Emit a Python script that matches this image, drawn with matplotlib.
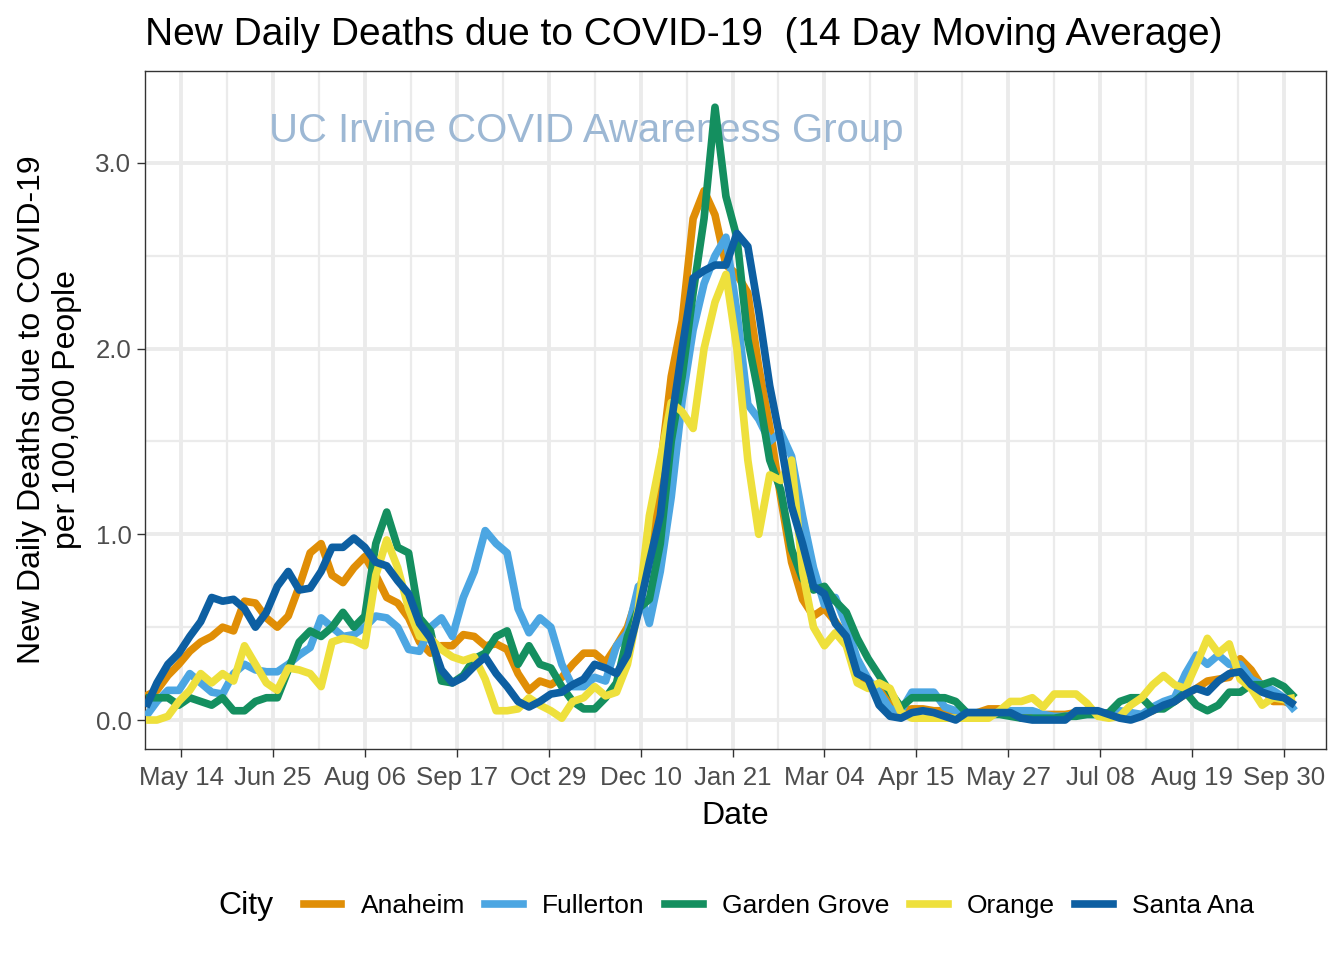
import matplotlib
matplotlib.use("Agg")
import matplotlib.pyplot as plt
import matplotlib.dates as mdates
from matplotlib.lines import Line2D
import pandas as pd
import numpy as np

plt.rcParams['font.family'] = ['Liberation Sans', 'DejaVu Sans']

# ---- data (14-day moving average, deaths per 100k), sampled every 5 days ----
dates = pd.date_range('2020-04-28', periods=106, freq='5D')

anaheim = [0.13,0.16,0.24,0.30,0.37,0.42,0.45,0.50,0.48,0.64,
           0.63,0.55,0.50,0.56,0.72,0.90,0.95,0.78,0.74,0.82,
           0.88,0.78,0.66,0.63,0.55,0.42,0.36,0.40,0.40,0.46,
           0.45,0.40,0.41,0.38,0.25,0.16,0.21,0.19,0.23,0.30,
           0.36,0.36,0.31,0.40,0.50,0.68,0.90,1.35,1.85,2.15,
           2.70,2.85,2.72,2.45,2.40,2.30,1.90,1.58,1.20,0.85,
           0.65,0.56,0.60,0.53,0.44,0.25,0.20,0.18,0.10,0.05,
           0.06,0.06,0.05,0.05,0.04,0.03,0.04,0.06,0.06,0.03,
           0.02,0.02,0.03,0.03,0.03,0.04,0.05,0.04,0.03,0.02,
           0.02,0.03,0.05,0.08,0.10,0.14,0.17,0.21,0.22,0.23,
           0.33,0.27,0.18,0.10,0.10,0.08]

fullerton = [0.02,0.10,0.16,0.16,0.25,0.20,0.15,0.14,0.25,0.30,
             0.27,0.26,0.26,0.30,0.35,0.39,0.55,0.50,0.45,0.46,
             0.50,0.56,0.55,0.50,0.38,0.37,0.50,0.55,0.45,0.66,
             0.80,1.02,0.95,0.90,0.60,0.47,0.55,0.50,0.30,0.18,
             0.18,0.23,0.21,0.40,0.47,0.72,0.52,0.80,1.20,1.72,
             2.10,2.35,2.50,2.60,2.20,1.70,1.62,1.50,1.55,1.42,
             1.10,0.82,0.62,0.66,0.51,0.33,0.22,0.15,0.06,0.05,
             0.15,0.15,0.15,0.07,0.05,0.04,0.04,0.03,0.04,0.05,
             0.05,0.05,0.03,0.02,0.02,0.03,0.03,0.03,0.03,0.05,
             0.04,0.03,0.07,0.10,0.12,0.25,0.35,0.30,0.35,0.30,
             0.30,0.22,0.19,0.16,0.12,0.05]

garden_grove = [0.12,0.12,0.12,0.08,0.12,0.10,0.08,0.12,0.05,0.05,
                0.10,0.12,0.12,0.27,0.42,0.48,0.45,0.50,0.58,0.50,
                0.56,0.95,1.12,0.93,0.90,0.55,0.48,0.21,0.20,0.24,
                0.33,0.36,0.45,0.48,0.30,0.40,0.30,0.28,0.18,0.10,
                0.06,0.06,0.12,0.20,0.45,0.60,0.65,0.95,1.50,1.85,
                2.30,2.70,3.30,2.82,2.60,2.05,1.75,1.40,1.24,0.92,
                0.76,0.70,0.72,0.64,0.58,0.44,0.33,0.24,0.15,0.07,
                0.12,0.12,0.12,0.12,0.10,0.04,0.03,0.03,0.03,0.02,
                0.01,0.01,0.01,0.01,0.02,0.02,0.03,0.03,0.04,0.10,
                0.12,0.12,0.06,0.06,0.10,0.15,0.08,0.05,0.08,0.15,
                0.15,0.19,0.19,0.21,0.18,0.12]

orange = [0.00,0.00,0.02,0.10,0.16,0.25,0.20,0.25,0.21,0.40,
          0.30,0.20,0.16,0.28,0.27,0.25,0.18,0.42,0.44,0.43,
          0.40,0.78,0.97,0.82,0.60,0.45,0.44,0.38,0.34,0.32,
          0.34,0.22,0.05,0.05,0.06,0.12,0.08,0.05,0.01,0.10,
          0.12,0.18,0.13,0.15,0.30,0.60,1.10,1.40,1.71,1.66,
          1.57,2.00,2.25,2.40,2.00,1.40,1.00,1.32,1.29,1.40,
          0.80,0.50,0.40,0.47,0.40,0.20,0.17,0.20,0.17,0.04,
          0.01,0.01,0.01,0.01,0.01,0.01,0.01,0.01,0.05,0.10,
          0.10,0.12,0.07,0.14,0.14,0.14,0.09,0.02,0.01,0.02,
          0.08,0.12,0.19,0.24,0.19,0.17,0.30,0.44,0.36,0.41,
          0.22,0.17,0.08,0.12,0.11,0.12]

santa_ana = [0.07,0.20,0.30,0.36,0.45,0.53,0.66,0.64,0.65,0.60,
             0.50,0.58,0.72,0.80,0.70,0.71,0.80,0.93,0.93,0.98,
             0.93,0.85,0.83,0.75,0.68,0.52,0.44,0.27,0.20,0.23,
             0.29,0.34,0.25,0.18,0.10,0.07,0.10,0.14,0.15,0.19,
             0.22,0.30,0.28,0.25,0.35,0.58,0.85,1.10,1.60,2.00,
             2.38,2.42,2.45,2.45,2.62,2.55,2.20,1.80,1.50,1.15,
             0.95,0.72,0.68,0.52,0.45,0.25,0.22,0.08,0.02,0.01,
             0.04,0.05,0.04,0.02,0.00,0.04,0.04,0.04,0.04,0.04,
             0.01,0.00,0.00,0.00,0.00,0.05,0.05,0.05,0.03,0.01,
             0.00,0.02,0.05,0.08,0.10,0.14,0.17,0.15,0.21,0.25,
             0.26,0.19,0.15,0.13,0.12,0.08]

cities = ['Anaheim', 'Fullerton', 'Garden Grove', 'Orange', 'Santa Ana']
series = [anaheim, fullerton, garden_grove, orange, santa_ana]
colors = ['#E08E06', '#4CA6E2', '#148F5F', '#EEE03C', '#0D5FA2']

tick_dates = pd.date_range('2020-05-14', periods=13, freq='42D')
tick_labels = ['May 14', 'Jun 25', 'Aug 06', 'Sep 17', 'Oct 29', 'Dec 10',
               'Jan 21', 'Mar 04', 'Apr 15', 'May 27', 'Jul 08', 'Aug 19', 'Sep 30']
minor_dates = tick_dates[:-1] + pd.Timedelta(days=21)

# ---- figure ----
fig = plt.figure(figsize=(13.44, 9.6), dpi=100)
ax = fig.add_axes([145/1344, 1-749/960, (1326-145)/1344, (749-71)/960])

for s, c in zip(series, colors):
    ax.plot(dates, s, color=c, lw=5.5, solid_joinstyle='round', solid_capstyle='butt', zorder=3)

x0 = pd.Timestamp('2020-04-28') - pd.Timedelta(days=0.46)
x1 = pd.Timestamp('2020-04-28') + pd.Timedelta(days=539.2)
ax.set_xlim(x0, x1)
ax.set_ylim(-0.156, 3.495)

ax.set_xticks(tick_dates)
ax.set_xticklabels(tick_labels)
ax.set_xticks(minor_dates, minor=True)
ax.set_yticks([0, 1, 2, 3])
ax.set_yticklabels(['0.0', '1.0', '2.0', '3.0'])
ax.set_yticks([0.5, 1.5, 2.5], minor=True)

ax.grid(which='major', color='#EBEBEB', lw=2.8, zorder=0)
ax.grid(which='minor', color='#EBEBEB', lw=1.6, zorder=0)
ax.set_axisbelow(True)

ax.tick_params(which='major', length=5.8, width=1.0, color='#333333',
               labelsize=18.6, labelcolor='#4D4D4D', pad=4)
ax.tick_params(axis='x', which='major', pad=6.5)
ax.tick_params(which='minor', length=0)
for sp in ax.spines.values():
    sp.set_color('#333333')
    sp.set_linewidth(1.0)

ax.set_xlabel('Date', fontsize=23, labelpad=8)
ax.set_ylabel('New Daily Deaths due to COVID-19\nper 100,000 People', fontsize=23, labelpad=10)

ax.text(pd.Timestamp('2020-11-15'), 3.17, 'UC Irvine COVID Awareness Group',
        fontsize=28.9, color='#9DB8D4', ha='center', va='center', zorder=2)

fig.text(145/1344, 1-35/960, 'New Daily Deaths due to COVID-19  (14 Day Moving Average)',
         fontsize=28, ha='left', va='center')

handles = [Line2D([0], [0], color=c, lw=5.5) for c in colors]
leg = fig.legend(handles, cities, loc='center', bbox_to_anchor=(779/1344, 1-906/960),
                 ncol=5, frameon=False, fontsize=19, handlelength=1.43,
                 handletextpad=0.72, columnspacing=0.78)
fig.text(218/1344, 1-906/960, 'City', fontsize=23, ha='left', va='center')

fig.savefig('out.png', dpi=100)
